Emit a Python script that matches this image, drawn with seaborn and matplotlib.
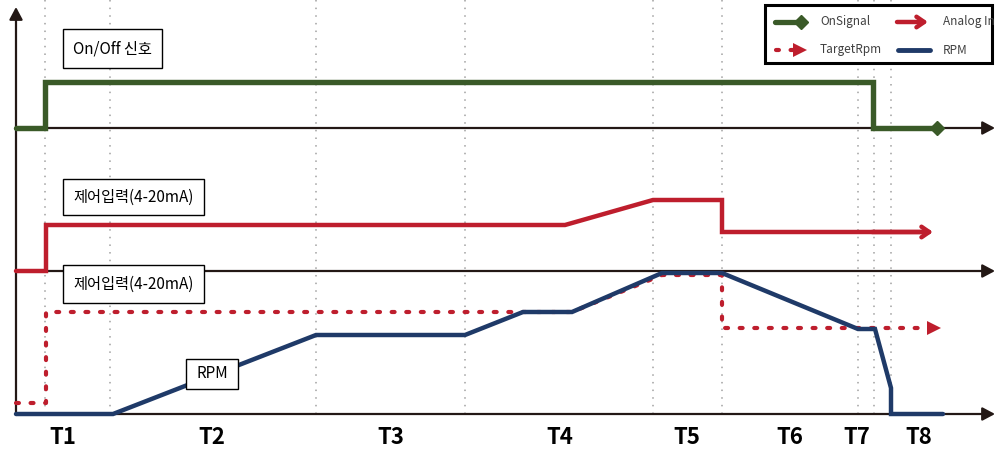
import numpy as np
import pandas as pd
import matplotlib
matplotlib.use('Agg')
import matplotlib.pyplot as plt
from matplotlib.patches import Rectangle
import seaborn as sns

sns.set_style('white')
plt.rcParams['font.family'] = ['Noto Sans CJK KR', 'DejaVu Sans']
plt.rcParams['axes.unicode_minus'] = False

COLORS = {
    'green': '#3a5a28',
    'red': '#be1e2d',
    'blue': '#1f3a68',
    'axis': '#231815',
    'grid': '#a0a0a0',
    'text': '#404040',
}

# ===== 데이터 (시간축 단위, 각 기준선 위의 레벨) =====
on_t = [16, 45, 45, 873, 873, 937]
on_level = [0, 0, 46, 46, 0, 0]

analog_t = [16, 46, 46, 565, 653, 722, 722, 933]
analog_level = [0, 0, 46, 46, 71, 71, 39, 39]

target_t = [16, 46, 46, 572, 662, 722, 722, 934]
target_level = [11, 11, 102, 102, 139, 139, 86, 86]

rpm_t = [16, 113, 316, 465, 523, 572, 662, 722, 858, 875, 891, 891, 943]
rpm_level = [0, 0, 79, 79, 102, 102, 141, 141, 85, 85, 26, 0, 0]

event_t = [45, 110, 316, 465, 653, 722, 858, 874, 891]
phase_labels = ['T1', 'T2', 'T3', 'T4', 'T5', 'T6', 'T7', 'T8']
phase_x = [63, 212, 391, 560, 687, 790, 857, 919]

# 기준선 (레이아웃)
ON_BASE, ANALOG_BASE, RPM_BASE = 322, 179, 36

fig = plt.figure(figsize=(9.96, 4.5), dpi=100)
ax = fig.add_axes([0, 0, 1, 1])
ax.set_xlim(0, 996)
ax.set_ylim(0, 450)
ax.axis('off')

# ===== 이벤트 점선 =====
ax.vlines(event_t, RPM_BASE, 450, colors=COLORS['grid'], lw=1.1,
          linestyles=(0, (1, 4)), zorder=1)

# ===== 축 화살표 =====
axis_arrow = dict(arrowstyle='-|>,head_length=0.75,head_width=0.4', lw=1.6,
                  color=COLORS['axis'], shrinkA=0, shrinkB=0)
for base in [ON_BASE, ANALOG_BASE, RPM_BASE]:
    ax.annotate('', xy=(995, base), xytext=(16, base), arrowprops=axis_arrow, zorder=2)
ax.annotate('', xy=(16, 443), xytext=(16, RPM_BASE - 1), arrowprops=axis_arrow, zorder=2)

# ===== 신호선 =====
sns.lineplot(x=on_t, y=np.array(on_level) + ON_BASE, estimator=None, sort=False,
             color=COLORS['green'], lw=3.9, ax=ax, zorder=4,
             solid_joinstyle='miter', solid_capstyle='round')
ax.plot(on_t[-1], on_level[-1] + ON_BASE, marker='D', ms=7, color=COLORS['green'], zorder=4)

sns.lineplot(x=analog_t[:-1] + [analog_t[-1] - 4], y=np.array(analog_level) + ANALOG_BASE,
             estimator=None, sort=False, color=COLORS['red'], lw=3.2, ax=ax, zorder=4,
             solid_joinstyle='miter')
ax.annotate('', xy=(analog_t[-1], analog_level[-1] + ANALOG_BASE),
            xytext=(analog_t[-2] + 150, analog_level[-2] + ANALOG_BASE),
            arrowprops=dict(arrowstyle='->,head_length=0.55,head_width=0.38', lw=3.2,
                            color=COLORS['red'], shrinkA=0, shrinkB=0), zorder=4)

sns.lineplot(x=target_t, y=np.array(target_level) + RPM_BASE, estimator=None, sort=False,
             color=COLORS['red'], lw=3.0, ax=ax, zorder=3,
             linestyle=(0, (0.7, 2.8)), dash_capstyle='round')
ax.plot(target_t[-1], target_level[-1] + RPM_BASE, marker='>', ms=10, mew=0,
        color=COLORS['red'], zorder=3)

sns.lineplot(x=rpm_t, y=np.array(rpm_level) + RPM_BASE, estimator=None, sort=False,
             color=COLORS['blue'], lw=3.2, ax=ax, zorder=4, solid_joinstyle='miter')

# ===== 라벨 박스 =====
boxes = [
    ('On/Off 신호', 63, 382, 99, 39),
    ('제어입력(4-20mA)', 63, 235, 141, 36),
    ('제어입력(4-20mA)', 63, 147, 141, 38),
    ('RPM', 186, 61, 52, 30),
]
for label, bx, by, bw, bh in boxes:
    ax.add_patch(Rectangle((bx, by), bw, bh, fc='white', ec='black', lw=1, zorder=6))
    ax.text(bx + bw / 2, by + bh / 2, label, ha='center', va='center',
            fontsize=11, color='black', zorder=7)

# ===== 구간 라벨 =====
for lab, px in zip(phase_labels, phase_x):
    ax.text(px, 13, lab, ha='center', va='center', fontsize=16,
            fontweight='bold', color='black')

# ===== 범례 =====
ax.add_patch(Rectangle((765, 387), 227, 58, fc='white', ec='black', lw=2.2, zorder=8))
ax.plot([775, 800], [428, 428], color=COLORS['green'], lw=3.8, zorder=9)
ax.plot(801, 428, marker='D', ms=7, color=COLORS['green'], zorder=9)
ax.annotate('', xy=(928, 428), xytext=(897, 428),
            arrowprops=dict(arrowstyle='->,head_length=0.55,head_width=0.38', lw=3.2,
                            color=COLORS['red'], shrinkA=0, shrinkB=0), zorder=9)
ax.plot([776, 793], [400, 400], color=COLORS['red'], lw=3.0,
        linestyle=(0, (0.7, 2.8)), dash_capstyle='round', zorder=9)
ax.plot(800, 400, marker='>', ms=10, mew=0, color=COLORS['red'], zorder=9)
ax.plot([898, 930], [400, 400], color=COLORS['blue'], lw=3.5,
        solid_capstyle='round', zorder=9)
for lab, lx, ly in [('OnSignal', 820, 428), ('Analog In', 943, 428),
                    ('TargetRpm', 820, 400), ('RPM', 943, 400)]:
    ax.text(lx, ly, lab, ha='left', va='center', fontsize=8.5,
            color=COLORS['text'], zorder=10)

fig.savefig('out.png', dpi=100)
plt.close()
